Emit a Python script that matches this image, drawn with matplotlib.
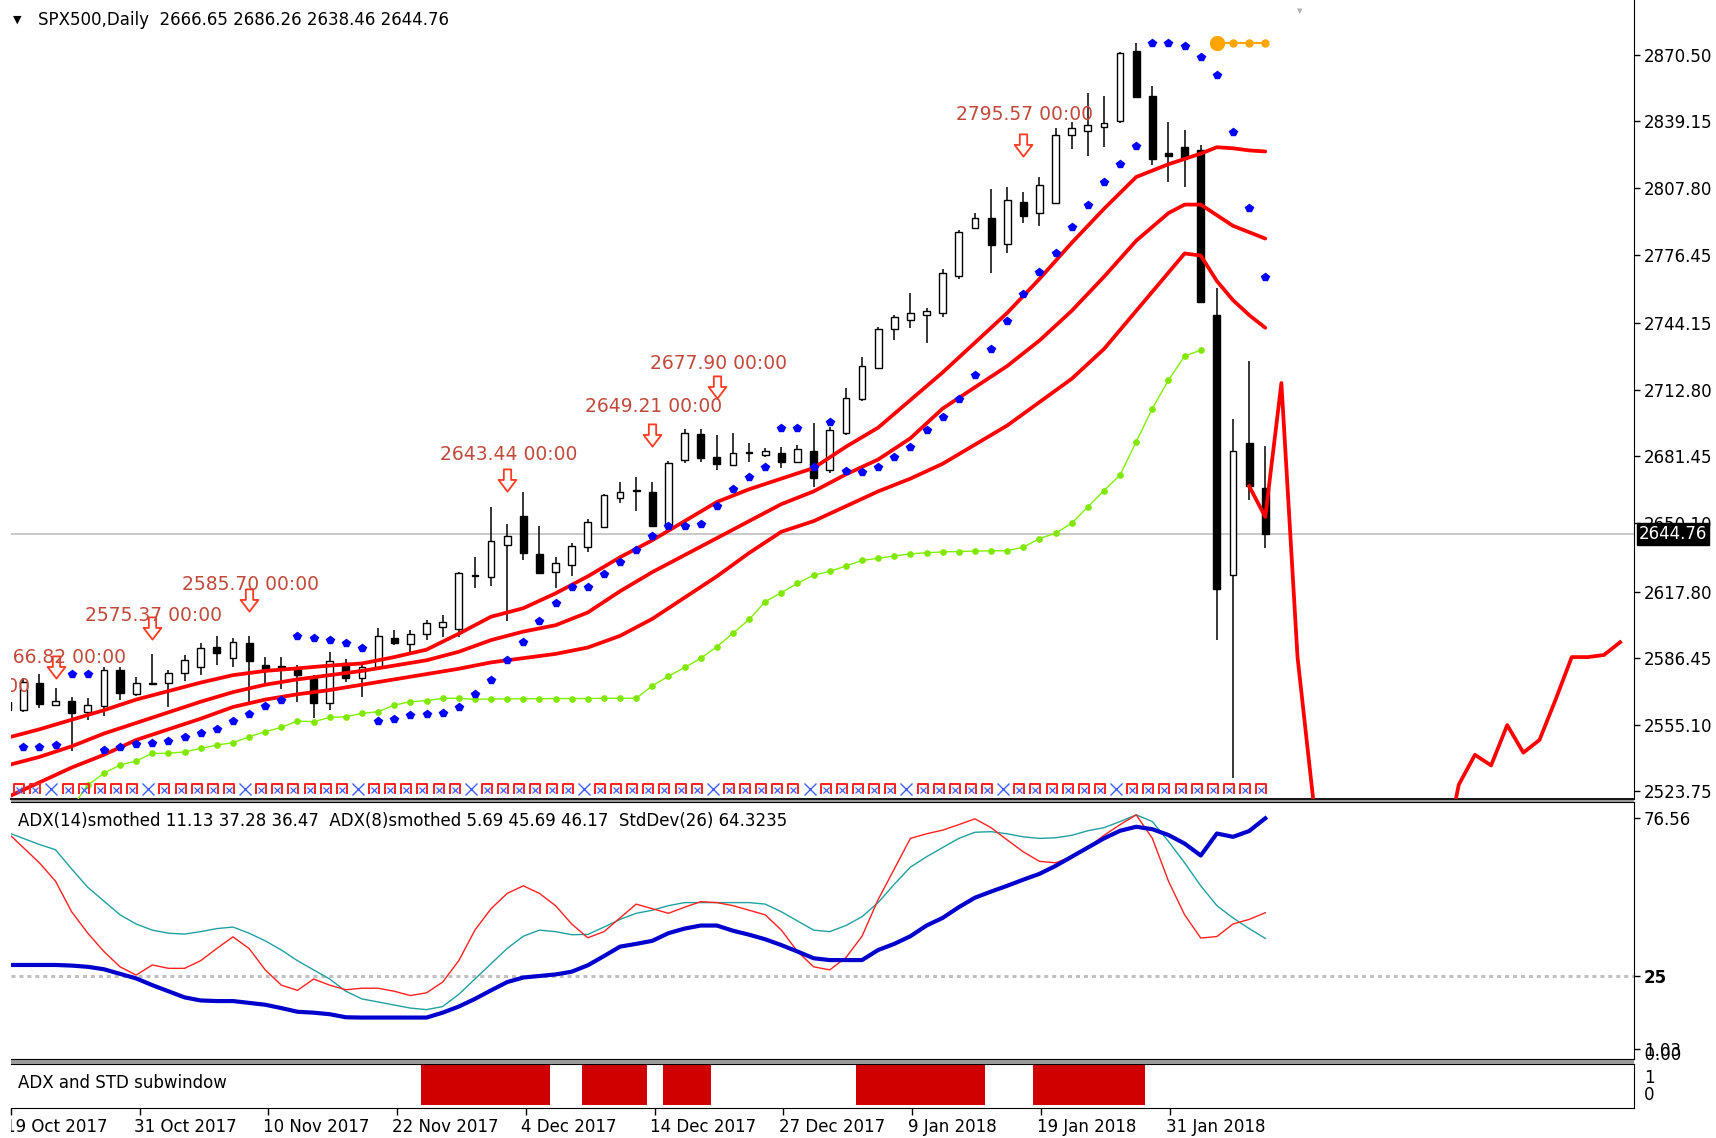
"""
SPX500 日线图 (MT4 风格) 复刻 - matplotlib
"""
import numpy as np
import matplotlib.pyplot as plt
from matplotlib.path import Path
from matplotlib.patches import Rectangle
from matplotlib.transforms import blended_transform_factory

plt.rcParams['font.family'] = ['DejaVu Sans']

W, H = 1716, 1138

# ===== 数据 =====
opens = [2566.0, 2562.1, 2574.9, 2564.3, 2566.5, 2561.3, 2564.1, 2580.9, 2569.6, 2574.4,
         2574.9, 2579.6, 2582.5, 2591.6, 2586.4, 2593.5, 2583.2, 2582.8, 2581.2, 2577.8,
         2565.2, 2584.0, 2577.0, 2582.5, 2596.1, 2593.1, 2597.8, 2601.3, 2600.0, 2625.4,
         2624.5, 2639.7, 2653.4, 2635.3, 2627.2, 2630.3, 2638.9, 2648.4, 2661.7, 2665.4,
         2664.8, 2649.2, 2679.7, 2692.0, 2681.0, 2677.4, 2683.0, 2682.1, 2682.9, 2679.0,
         2684.1, 2675.0, 2692.3, 2708.3, 2722.9, 2741.2, 2745.9, 2748.0, 2748.8, 2766.3,
         2788.8, 2793.5, 2781.4, 2801.3, 2795.9, 2800.9, 2832.7, 2834.7, 2836.6, 2839.5,
         2872.4, 2851.1, 2824.4, 2827.2, 2825.7, 2748.0, 2625.6, 2687.9, 2666.65]
highs = [2568.0, 2577.0, 2579.0, 2572.3, 2568.3, 2567.6, 2582.5, 2582.5, 2577.8, 2588.4,
         2580.9, 2588.0, 2593.5, 2596.9, 2595.8, 2596.9, 2587.2, 2587.2, 2583.2, 2578.5,
         2589.5, 2585.9, 2583.2, 2600.5, 2599.7, 2599.7, 2604.4, 2606.8, 2627.2, 2634.2,
         2657.8, 2649.6, 2664.8, 2648.7, 2634.2, 2640.8, 2651.8, 2664.0, 2669.5, 2671.6,
         2669.5, 2679.3, 2694.2, 2694.2, 2691.5, 2692.6, 2687.9, 2685.2, 2686.0, 2686.8,
         2697.3, 2695.4, 2713.5, 2728.1, 2742.2, 2748.0, 2758.5, 2751.1, 2769.5, 2788.0,
         2796.2, 2807.1, 2808.1, 2806.0, 2813.1, 2835.9, 2839.0, 2852.3, 2851.1, 2871.9,
         2876.2, 2855.8, 2839.0, 2835.1, 2828.0, 2760.5, 2699.3, 2726.3, 2686.26]
lows = [2559.0, 2561.0, 2562.9, 2564.0, 2542.9, 2557.4, 2559.2, 2566.8, 2568.7, 2573.8,
        2563.6, 2575.9, 2578.5, 2583.2, 2582.5, 2566.0, 2573.4, 2571.8, 2566.0, 2558.1,
        2562.1, 2575.4, 2568.3, 2580.9, 2592.7, 2589.5, 2595.0, 2596.6, 2596.5, 2619.3,
        2620.4, 2604.1, 2632.7, 2626.1, 2619.3, 2625.1, 2636.6, 2648.0, 2659.6, 2655.9,
        2648.4, 2648.4, 2678.5, 2678.9, 2675.0, 2676.9, 2679.0, 2681.0, 2675.8, 2678.2,
        2667.2, 2673.5, 2691.5, 2707.7, 2722.4, 2736.2, 2741.7, 2735.0, 2746.9, 2764.8,
        2788.3, 2767.6, 2777.3, 2791.5, 2789.9, 2800.2, 2826.0, 2822.8, 2826.9, 2838.5,
        2850.0, 2818.6, 2810.8, 2808.1, 2753.5, 2595.0, 2530.0, 2660.9, 2638.46]
closes = [2562.0, 2575.4, 2564.9, 2566.5, 2560.8, 2564.4, 2580.9, 2569.9, 2574.9, 2574.8,
          2579.6, 2585.6, 2591.4, 2589.1, 2594.2, 2585.3, 2581.2, 2581.2, 2578.5, 2565.2,
          2585.3, 2577.0, 2582.5, 2596.9, 2593.8, 2597.8, 2602.9, 2603.6, 2626.7, 2625.8,
          2641.8, 2644.0, 2635.8, 2626.7, 2631.4, 2639.3, 2650.7, 2663.3, 2664.8, 2665.8,
          2648.7, 2678.5, 2692.3, 2680.5, 2677.9, 2682.9, 2683.4, 2684.1, 2679.0, 2684.8,
          2671.1, 2693.9, 2708.8, 2724.0, 2741.2, 2747.2, 2748.8, 2749.9, 2767.9, 2787.2,
          2793.5, 2780.9, 2802.1, 2794.6, 2809.2, 2832.7, 2835.9, 2837.4, 2838.5, 2871.2,
          2850.8, 2821.3, 2822.8, 2821.7, 2754.3, 2619.0, 2684.1, 2667.5, 2644.76]

# 三条红色通道线
band_x = [0, 2, 4, 6, 8, 10, 12, 14, 16, 18, 20, 22, 24, 26, 28, 30, 32, 34, 36, 38, 40,
          42, 44, 46, 48, 50, 52, 54, 56, 58, 60, 62, 64, 66, 68, 70, 72, 73, 74, 75, 76, 77, 78]
band_up = [2549, 2553, 2557.5, 2562, 2567, 2571, 2575, 2578.5, 2580.5, 2581.7, 2583, 2584,
           2587, 2590.5, 2598, 2606, 2610, 2617, 2625, 2634, 2642, 2651, 2660, 2666, 2671,
           2676, 2686, 2695, 2708, 2721, 2735, 2749, 2765, 2782, 2798, 2813, 2819, 2821.5,
           2824, 2827, 2826.5, 2825.5, 2825]
band_mid = [2536, 2540, 2545, 2551, 2556, 2561, 2566, 2570.5, 2574, 2576.5, 2578.5, 2580.5,
            2583, 2585.5, 2589.5, 2595, 2599, 2602, 2608, 2618, 2627, 2635, 2643, 2651, 2659,
            2665, 2673, 2680, 2690, 2704, 2714, 2724, 2736, 2750, 2766, 2783, 2796, 2800,
            2800, 2795, 2790, 2787, 2784]
band_lo = [2521, 2528, 2535, 2541, 2548, 2553, 2558, 2563.5, 2567, 2569.5, 2571.5, 2574,
           2576.5, 2579, 2581.5, 2584.5, 2586.5, 2588.5, 2591.5, 2597, 2605, 2615, 2625, 2636,
           2646, 2651, 2658, 2665, 2671, 2678, 2687, 2696, 2707, 2718, 2732, 2750, 2768, 2777,
           2776, 2764, 2755, 2748, 2742]

# 抛物线SAR
sar_x = list(range(1, 79))
sar_y = [2544.5, 2544.5, 2545.6, 2579.0, 2579.0, 2543.5, 2544.5, 2546.1, 2546.7, 2547.5,
         2549.2, 2551.4, 2553.1, 2557.0, 2560.0, 2564.0, 2566.8, 2596.9, 2595.8, 2595.0,
         2593.5, 2591.4, 2556.9, 2557.8, 2559.7, 2560.2, 2560.8, 2563.6, 2569.6, 2576.0,
         2585.6, 2594.2, 2604.1, 2612.6, 2620.1, 2620.1, 2625.9, 2631.7, 2637.2, 2644.1,
         2648.8, 2648.8, 2649.6, 2658.2, 2665.9, 2671.6, 2676.6, 2694.6, 2694.6, 2676.3,
         2697.8, 2674.7, 2674.2, 2676.6, 2681.3, 2686.0, 2693.9, 2700.1, 2708.3, 2719.7,
         2731.8, 2745.3, 2757.7, 2768.1, 2777.0, 2789.6, 2799.8, 2810.4, 2819.1, 2827.7,
         2876.2, 2876.2, 2874.6, 2869.6, 2860.9, 2834.3, 2798.4, 2765.9]

# 绿色线
green_x = list(range(4, 75))
green_y = [2516.0, 2526.8, 2532.3, 2536.2, 2538.1, 2541.7, 2541.7, 2542.4, 2544.0, 2545.6,
           2546.7, 2549.5, 2551.9, 2553.9, 2556.9, 2556.6, 2558.6, 2558.9, 2560.5, 2561.3,
           2564.4, 2566.0, 2566.5, 2567.6, 2567.6, 2567.1, 2567.3, 2567.3, 2567.4, 2567.4,
           2567.5, 2567.5, 2567.5, 2567.6, 2567.6, 2567.6, 2573.5, 2578.0, 2582.1, 2586.4,
           2591.9, 2598.2, 2604.7, 2613.1, 2617.3, 2621.7, 2625.6, 2627.3, 2629.9, 2632.5,
           2633.5, 2634.6, 2635.6, 2636.1, 2636.5, 2636.7, 2636.9, 2637.0, 2637.1, 2638.7,
           2642.8, 2645.3, 2650.0, 2657.7, 2665.4, 2672.7, 2688.4, 2704.0, 2717.4, 2728.7,
           2731.5]

# 向右平移的红线
shift_x = list(range(77, 101))
shift_y = [2667.5, 2653.0, 2716.0, 2587.0, 2518.0, 2460.0, 2440.0, 2430.0, 2420.0, 2430.0,
           2440.0, 2450.0, 2490.0, 2527.0, 2541.0, 2536.0, 2555.0, 2542.0, 2548.0, 2567.0,
           2587.0, 2587.0, 2588.0, 2594.0]

orange_x = [75, 76, 77, 78]
orange_y = [2876.2, 2876.2, 2876.2, 2876.2]

# 价格标签与箭头
lbl_bar = [-2.8, 3.1, 9.1, 15.1, 31.1, 40.1, 44.1, 63.1]
lbl_txt = ['2557.51 00:00', '2566.82 00:00', '2575.37 00:00', '2585.70 00:00',
           '2643.44 00:00', '2649.21 00:00', '2677.90 00:00', '2795.57 00:00']
lbl_y = [2573.2, 2586.6, 2606.7, 2621.1, 2682.5, 2705.1, 2725.2, 2842.2]
arrow_bar = [3, 9, 15, 31, 40, 44, 63]
arrow_y = [2582.5, 2600.5, 2613.8, 2670.3, 2691.5, 2714.0, 2828.0]

last_close = 2644.76
price_ticks = [2870.50, 2839.15, 2807.80, 2776.45, 2744.15, 2712.80, 2681.45, 2650.10,
               2617.80, 2586.45, 2555.10, 2523.75]

# ADX 子窗口
adx_red = [72, 67, 62, 56, 46, 39, 33, 28, 25.3, 28.6, 27.5, 27.5, 30, 34, 37.8, 34, 27, 22,
           20.3, 24, 22, 20.5, 21, 21, 20, 18.6, 19.5, 23, 30, 40, 47, 52, 54.5, 52, 48, 42,
           37.5, 39.5, 44, 48.5, 47, 45.5, 47.5, 49.3, 49, 48, 46.5, 45, 40, 33, 28, 27, 31,
           38, 50, 60, 70, 71.5, 72.7, 74.5, 76.4, 73.5, 69.5, 65.6, 62.5, 62, 64, 67, 71,
           74.5, 77.7, 70, 56, 45, 37.4, 37.9, 42, 43.5, 45.7]
adx_teal = [72, 70, 68, 66.3, 60, 54, 49.5, 45, 42, 40, 39, 38.7, 39.5, 40.5, 41, 39, 36.5,
            33.5, 30, 27, 24, 20, 17.5, 16.5, 15.5, 14.5, 14, 15, 19, 24, 29, 34, 38, 40,
            39.5, 38.5, 38.6, 41, 43.5, 45.5, 46.5, 48, 49, 49, 49, 49, 49, 48.5, 46, 43, 40,
            39.5, 41.5, 44.4, 49, 55, 60.6, 64, 67, 70, 72, 72.2, 71.5, 70.5, 70, 70.2, 71,
            72.5, 73.5, 75.5, 77.7, 75.5, 69, 62, 54.5, 48, 44, 40.5, 37.3]
adx_blue = [28.6, 28.6, 28.6, 28.6, 28.4, 28, 27.2, 25.7, 24.2, 22, 20, 18, 17, 16.8, 16.8,
            16.2, 15.6, 14.5, 13.3, 13, 12.5, 11.5, 11.4, 11.4, 11.4, 11.4, 11.4, 13, 15,
            17.5, 20.3, 23, 24.5, 25, 25.5, 26.4, 28.5, 31.5, 34.6, 35.5, 36.5, 39, 40.5,
            41.5, 41.5, 39.8, 38.5, 37, 35.1, 33, 30.8, 30.2, 30.2, 30.2, 33.5, 35.5, 38,
            41.5, 44, 47.5, 50.6, 52.6, 54.5, 56.5, 58.4, 61, 64, 67, 70, 72.5, 73.8, 73,
            71.1, 68.3, 64.4, 71.6, 70.5, 72.4, 76.56]

# 底部子窗口红色块 (起止K线)
block_start = [26, 36, 41, 53, 64]
block_end = [33, 39, 43, 60, 70]

# 底部符号行中蓝色X所在K线
xmark_bars = [3, 9, 15, 22, 29, 36, 44, 50, 56, 62, 69]

date_idx = [0, 8, 16, 24, 32, 40, 48, 56, 64, 72]
date_lbl = ['19 Oct 2017', '31 Oct 2017', '10 Nov 2017', '22 Nov 2017', '4 Dec 2017',
            '14 Dec 2017', '27 Dec 2017', '9 Jan 2018', '19 Jan 2018', '31 Jan 2018']

# ===== 画布 =====
fig = plt.figure(figsize=(W / 100, H / 100), dpi=100)


def fx(px):
    return px / W


def fy(py):
    return 1 - py / H


L, R = 11, 1634
XL = (0.24, 100.86)
ax = fig.add_axes([fx(L), fy(799), (R - L) / W, 799 / H])
ax2 = fig.add_axes([fx(L), fy(1059.4), (R - L) / W, (1059.4 - 802) / H])
ax3 = fig.add_axes([fx(L), fy(1107.5), (R - L) / W, (1107.5 - 1063.8) / H])
axd = fig.add_axes([fx(L), 0, (R - L) / W, (H - 1109) / H])

for a in (ax, ax2, ax3, axd):
    a.set_xlim(*XL)
    a.spines['left'].set_visible(False)
    a.set_facecolor('white')

# 面板之间的灰色分隔
for y0, y1 in [(799.5, 802), (1059.8, 1063.5)]:
    fig.patches.append(Rectangle((fx(L), fy(y1)), (R - L) / W, (y1 - y0) / H,
                                 transform=fig.transFigure, color='#9a9a9a', lw=0))

# ===== 主图 =====
ax.set_ylim(2520.2, 2896.3)
ax.spines['top'].set_visible(False)
ax.spines['bottom'].set_linewidth(1.3)
ax.axhline(last_close, color='#c0c0c0', lw=1.2, zorder=1)

idx = np.arange(len(opens))
o, h, l, c = map(np.array, (opens, highs, lows, closes))
up = c >= o
ax.vlines(idx, l, h, color='black', lw=1.1, zorder=3)
lo_b = np.minimum(o, c)
ht_b = np.maximum(np.abs(c - o), 0.05)
ax.bar(idx[up], ht_b[up], bottom=lo_b[up], width=0.42, color='white',
       edgecolor='black', linewidth=1.0, zorder=4)
ax.bar(idx[~up], ht_b[~up], bottom=lo_b[~up], width=0.44, color='black',
       edgecolor='black', linewidth=1.0, zorder=4)

for band in (band_up, band_mid, band_lo):
    ax.plot(band_x, band, color='#ff0000', lw=2.7, zorder=5, solid_capstyle='round')

ax.plot(shift_x, shift_y, color='#ff0000', lw=2.7, zorder=5)
ax.plot(green_x, green_y, color='#80f000', lw=1.0, marker='o', ms=3.8,
        mfc='#80e800', mec='#80e800', zorder=5)
ax.plot(sar_x, sar_y, ls='none', marker='p', ms=5.8, color='#0000ff', zorder=6)
ax.plot(orange_x, orange_y, color='#ffa500', lw=1.5, marker='o', ms=5, zorder=6)
ax.plot(orange_x[:1], orange_y[:1], ls='none', marker='o', ms=10, color='#ffa500', zorder=6)

arrow_path = Path([(-0.33, 1.0), (0.33, 1.0), (0.33, 0.05), (0.8, 0.05), (0.0, -1.0),
                   (-0.8, 0.05), (-0.33, 0.05), (-0.33, 1.0)],
                  [Path.MOVETO] + [Path.LINETO] * 6 + [Path.CLOSEPOLY])
ax.plot(arrow_bar, arrow_y, ls='none', marker=arrow_path, ms=16, mfc='white',
        mec='#ff3a20', mew=1.3, zorder=7)
for xb, yv, t in zip(lbl_bar, lbl_y, lbl_txt):
    ax.text(xb, yv, t, color='#c04a3c', fontsize=13.5, ha='center', va='center',
            zorder=8, clip_on=True)

# 底部符号行
pi_path = Path([(-1, -1), (-1, 1), (1, 1), (1, -1)],
               [Path.MOVETO, Path.LINETO, Path.LINETO, Path.LINETO])
box_bars = [i for i in range(len(opens)) if i not in xmark_bars]
row_y = 2525.0
ax.plot(np.array(box_bars) - 0.25, [row_y] * len(box_bars), ls='none', marker=pi_path,
        ms=7.5, mfc='none', mec='#ff2020', mew=1.4, zorder=6)
ax.plot(np.array(box_bars) - 0.25, [row_y - 0.6] * len(box_bars), ls='none', marker='x',
        ms=4.5, mec='#4060ff', mew=0.9, zorder=6)
ax.plot(np.array(xmark_bars) - 0.25, [row_y] * len(xmark_bars), ls='none', marker='x',
        ms=8.5, mec='#4060ff', mew=1.0, zorder=6)

ax.set_xticks([])
ax.yaxis.tick_right()
ax.set_yticks(price_ticks)
ax.set_yticklabels([f'{v:.2f}' for v in price_ticks])
ax.tick_params(axis='y', direction='out', length=4, width=1, pad=3, labelsize=12)

bt = blended_transform_factory(ax.transAxes, ax.transData)
ax.text(1.003, last_close, '2644.76', transform=bt, color='white', fontsize=12,
        ha='left', va='center', zorder=10, clip_on=False,
        bbox=dict(boxstyle='square,pad=0.12', facecolor='black', edgecolor='black'))

# ===== ADX 子窗口 =====
ax2.set_ylim(-2.28, 81.9)
ax2.axhline(25, color='#c0c0c0', lw=2.2, ls=(0, (1.3, 1.3)), zorder=1)
ax2.plot(idx, adx_teal, color='#20a0a0', lw=1.0, zorder=3)
ax2.plot(idx, adx_red, color='#ff2020', lw=1.0, zorder=3)
ax2.plot(idx, adx_blue, color='#0000cd', lw=3.0, zorder=4)
ax2.set_xticks([])
ax2.yaxis.tick_right()
ax2.set_yticks([76.56, 25, 1.03])
ax2.set_yticklabels(['76.56', '25', '1.03'])
ax2.tick_params(axis='y', direction='out', length=4, width=1, pad=3, labelsize=12)
ax2.get_yticklabels()[1].set_fontweight('bold')
bt2 = blended_transform_factory(ax2.transAxes, ax2.transData)
ax2.text(1.0, -1.0, '  0.00', transform=bt2, fontsize=12, ha='left', va='center',
         clip_on=False)

# ===== 底部子窗口 =====
ax3.set_ylim(-0.05, 1.03)
for s, e in zip(block_start, block_end):
    ax3.bar(np.arange(s, e + 1), [1] * (e - s + 1), width=1.0, bottom=0,
            color='#d00000', lw=0)
ax3.set_yticks([])
ax3.set_xticks(date_idx)
ax3.tick_params(axis='x', direction='out', length=5, width=1, labelbottom=False)
bt3 = blended_transform_factory(ax3.transAxes, ax3.transData)
ax3.text(1.006, 0.68, '1', transform=bt3, fontsize=12, ha='left', va='center')
ax3.text(1.006, 0.27, '0', transform=bt3, fontsize=12, ha='left', va='center')

# 日期标签
axd.axis('off')
axd.set_ylim(0, 1)
for xb, t in zip(date_idx, date_lbl):
    axd.text(xb - 0.14, 0.37, t, fontsize=12, ha='left', va='center', clip_on=True)

# ===== 文字 =====
fig.text(fx(13), fy(19.7), '▼', fontsize=8, ha='left', va='center')
fig.text(fx(38), fy(19.7), 'SPX500,Daily  2666.65 2686.26 2638.46 2644.76',
         fontsize=12, ha='left', va='center')
fig.text(fx(1300), fy(11), '▼', fontsize=5, color='#b0b0b0', ha='center', va='center')
fig.text(fx(17.5), fy(821),
         'ADX(14)smothed 11.13 37.28 36.47  ADX(8)smothed 5.69 45.69 46.17  StdDev(26) 64.3235',
         fontsize=12, ha='left', va='center')
fig.text(fx(17.5), fy(1083), 'ADX and STD subwindow', fontsize=12, ha='left', va='center')

plt.savefig('out.png', dpi=100)
plt.close()
